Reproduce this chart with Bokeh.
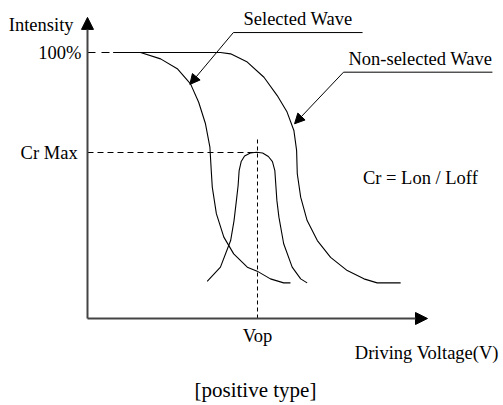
from bokeh.plotting import figure
from bokeh.models import Range1d, Arrow, NormalHead
from bokeh.core.properties import value
from bokeh.embed import file_html
from bokeh.resources import INLINE

# ---- data (voltage in arbitrary units, intensity in %) ----
sel_v = [0.76, 1.56, 2.15, 2.64, 3.03, 3.27, 3.47, 3.60, 3.64, 3.67, 3.79, 4.01, 4.30, 4.70, 4.99, 5.38, 5.77, 5.97]
sel_i = [100, 100, 97.6, 93.9, 88.2, 81.3, 73.2, 64.4, 55.6, 49.4, 39.4, 30.6, 24.3, 19.3, 17.8, 14.9, 13.4, 13.4]

non_v = [0.76, 3.91, 4.21, 4.70, 5.19, 5.58, 5.87, 6.07, 6.15, 6.17, 6.27, 6.46, 6.76, 7.15, 7.64, 8.13, 8.52, 9.21]
non_i = [100, 100, 99.5, 96.4, 90.7, 83.8, 77.6, 70.7, 63.2, 54.4, 45.6, 36.8, 29.3, 23.0, 18.0, 14.9, 13.4, 13.4]

cr_v = [3.52, 3.91, 4.21, 4.31, 4.38, 4.43, 4.46, 4.52, 4.62, 4.79, 4.97, 5.15, 5.32, 5.44, 5.51, 5.54, 5.57, 5.63, 5.77, 6.02, 6.27, 6.46]
cr_i = [14.0, 19.3, 29.3, 36.8, 44.4, 50.0, 55.6, 59.0, 61.1, 62.2, 62.5, 62.2, 60.9, 59.0, 55.6, 50.0, 44.4, 38.1, 28.1, 19.3, 14.9, 13.4]

full_level = 100.0      # 100%
cr_max = 62.4           # Cr Max
vop = 5.0               # Vop
top_start = 0.76

FONT = value("Liberation Serif")

p = figure(width=503, height=405,
           x_range=Range1d(-2.5588, 12.2353), y_range=Range1d(-32.71, 119.55),
           output_backend="svg", toolbar_location=None, min_border=0,
           x_axis_location=None, y_axis_location=None, outline_line_color=None)
p.grid.visible = False
p.background_fill_color = "white"
p.border_fill_color = "white"

# axes with arrows
p.add_layout(Arrow(end=NormalHead(size=12, fill_color="black", line_color="black", line_width=1),
                   x_start=0, y_start=0, x_end=0, y_end=113.2,
                   line_color="#444444", line_width=2))
p.add_layout(Arrow(end=NormalHead(size=12, fill_color="black", line_color="black", line_width=1),
                   x_start=0, y_start=0, x_end=10.0, y_end=0,
                   line_color="#444444", line_width=2))

# curves
p.line(sel_v, sel_i, line_color="black", line_width=1.1)
p.line(non_v, non_i, line_color="black", line_width=1.1)
p.line(cr_v, cr_i, line_color="black", line_width=1.1)

# reference dashed lines
p.line([0, top_start], [full_level, full_level], line_color="black", line_width=1, line_dash="8 6")
p.line([0, vop], [cr_max, cr_max], line_color="black", line_width=1, line_dash="6 4")
p.line([vop, vop], [0, 67.7], line_color="black", line_width=1, line_dash="4 3")

# leaders with arrows
p.line([4.29, 8.09], [107.5, 107.5], line_color="black", line_width=1)
p.add_layout(Arrow(end=NormalHead(size=10, fill_color="black", line_color="black", line_width=1),
                   x_start=4.29, y_start=107.5, x_end=3.01, y_end=88.0,
                   line_color="black", line_width=1))
p.line([7.53, 11.91], [92.6, 92.6], line_color="black", line_width=1)
p.add_layout(Arrow(end=NormalHead(size=10, fill_color="black", line_color="black", line_width=1),
                   x_start=7.53, y_start=92.6, x_end=6.09, y_end=73.2,
                   line_color="black", line_width=1))

# texts
p.text(x=[-0.41, -0.18, -0.29], y=[110.3, full_level, cr_max],
       text=["Intensity", "100%", "Cr Max"], text_font=FONT, text_font_size="18.5px",
       text_align="right", text_baseline="middle", text_color="black")
p.text(x=[6.19, 9.79, 9.79, vop, 9.98], y=[112.6, 97.5, 53.0, -6.6, -13.0],
       text=["Selected Wave", "Non-selected Wave", "Cr = Lon / Loff", "Vop", "Driving Voltage(V)"],
       text_font=FONT, text_font_size="18.5px",
       text_align="center", text_baseline="middle", text_color="black")
p.text(x=[4.94], y=[-27.0], text=["[positive type]"], text_font=FONT, text_font_size="21px",
       text_align="center", text_baseline="middle", text_color="black")

open("out.html", "w").write(file_html(p, INLINE))
